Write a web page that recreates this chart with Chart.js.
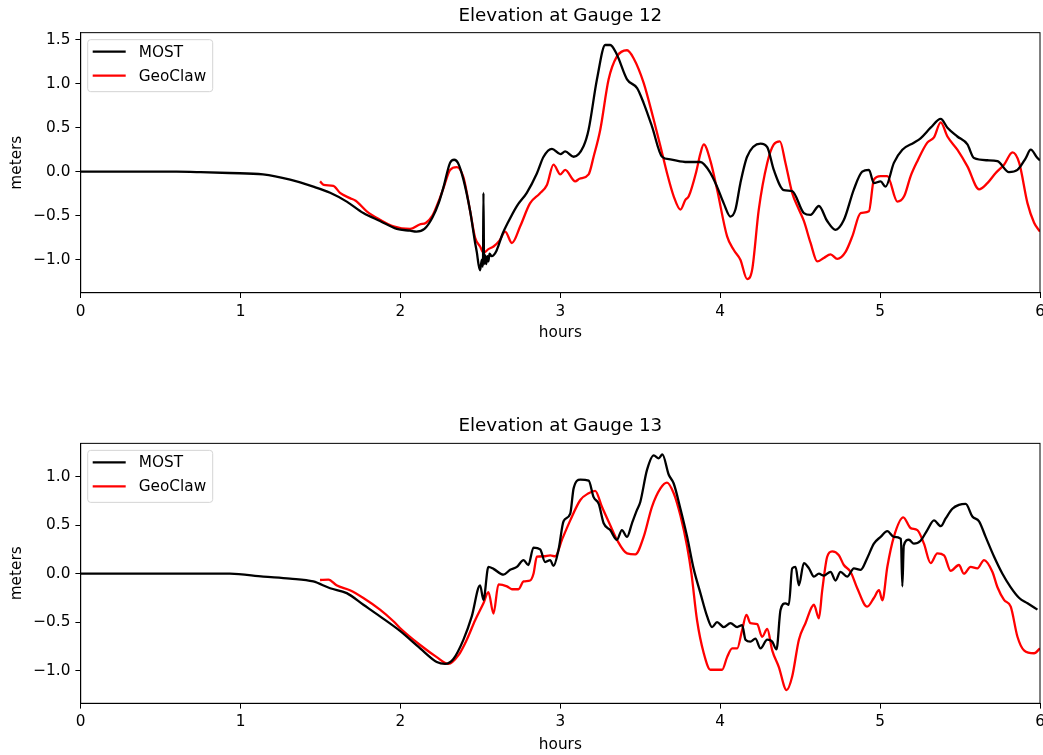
<!DOCTYPE html>
<html>
<head>
<meta charset="utf-8">
<script src="https://cdn.jsdelivr.net/npm/chart.js@4.4.1/dist/chart.umd.min.js"></script>
<style>
  html, body { margin: 0; padding: 0; background: #fff; }
  canvas { position: absolute; left: 0; }
  #g12 { top: 0; }
  #g13 { top: 378px; }
</style>
</head>
<body>
<canvas id="g12" width="1043" height="378"></canvas>
<canvas id="g13" width="1043" height="377"></canvas>
<script>
// [hours, meters]
const g12Most = [[0,0],[0.6,0],[0.75,-0.005],[0.93,-0.015],[1.14,-0.03],[1.31,-0.09],[1.455,-0.17],[1.56,-0.24],[1.664,-0.34],[1.768,-0.47],[1.872,-0.56],[1.977,-0.65],[2.06,-0.67],[2.1,-0.68],[2.15,-0.65],[2.2,-0.52],[2.24,-0.35],[2.27,-0.17],[2.31,0.1],[2.336,0.136],[2.36,0.1],[2.394,-0.09],[2.436,-0.45],[2.467,-0.81],[2.478,-0.92],[2.488,-1.05],[2.498,-1.12],[2.509,-1.0],[2.516,-1.08],[2.519,-0.24],[2.523,-1.05],[2.53,-0.95],[2.536,-1.05],[2.544,-0.96],[2.55,-1.02],[2.557,-0.93],[2.57,-0.96],[2.582,-0.95],[2.6,-0.9],[2.613,-0.84],[2.64,-0.7],[2.666,-0.6],[2.728,-0.39],[2.79,-0.24],[2.853,-0.02],[2.895,0.17],[2.947,0.26],[3.0,0.2],[3.03,0.23],[3.083,0.17],[3.145,0.29],[3.177,0.48],[3.229,1.05],[3.281,1.44],[3.312,1.44],[3.354,1.33],[3.417,1.05],[3.48,0.95],[3.521,0.78],[3.573,0.515],[3.636,0.17],[3.688,0.14],[3.793,0.11],[3.876,0.11],[3.939,-0.015],[3.98,-0.17],[4.022,-0.36],[4.064,-0.51],[4.095,-0.43],[4.126,-0.13],[4.168,0.17],[4.252,0.32],[4.294,0.28],[4.335,0.02],[4.398,-0.21],[4.45,-0.22],[4.523,-0.47],[4.565,-0.49],[4.617,-0.39],[4.669,-0.56],[4.721,-0.66],[4.773,-0.55],[4.836,-0.2],[4.888,0.0],[4.93,0.02],[4.961,-0.13],[5.003,-0.11],[5.034,-0.17],[5.086,0.1],[5.139,0.25],[5.211,0.33],[5.253,0.38],[5.316,0.5],[5.379,0.6],[5.421,0.5],[5.483,0.4],[5.546,0.31],[5.587,0.155],[5.671,0.13],[5.734,0.12],[5.806,-0.005],[5.859,0.02],[5.911,0.155],[5.942,0.25],[5.984,0.155],[6.0,0.13]];

const g12Geo = [[1.497,-0.11],[1.52,-0.15],[1.58,-0.16],[1.622,-0.24],[1.684,-0.3],[1.72,-0.33],[1.789,-0.45],[1.872,-0.545],[1.956,-0.62],[2.06,-0.65],[2.12,-0.6],[2.16,-0.58],[2.2,-0.5],[2.24,-0.33],[2.27,-0.18],[2.31,0.02],[2.353,0.053],[2.394,-0.065],[2.436,-0.45],[2.467,-0.75],[2.498,-0.85],[2.52,-0.92],[2.55,-0.88],[2.582,-0.85],[2.62,-0.78],[2.655,-0.68],[2.697,-0.81],[2.749,-0.62],[2.81,-0.36],[2.87,-0.25],[2.916,-0.15],[2.957,0.08],[3.0,-0.03],[3.03,0.02],[3.093,-0.11],[3.12,-0.08],[3.177,-0.03],[3.208,0.17],[3.25,0.48],[3.302,1.05],[3.354,1.31],[3.417,1.38],[3.458,1.29],[3.521,1.01],[3.584,0.59],[3.626,0.29],[3.667,-0.015],[3.709,-0.28],[3.751,-0.43],[3.782,-0.32],[3.803,-0.28],[3.85,0.0],[3.875,0.2],[3.897,0.31],[3.939,0.12],[3.98,-0.2],[4.043,-0.735],[4.085,-0.89],[4.126,-1.0],[4.168,-1.22],[4.2,-1.11],[4.241,-0.43],[4.294,0.1],[4.335,0.31],[4.373,0.345],[4.408,0.1],[4.45,-0.24],[4.492,-0.43],[4.523,-0.56],[4.565,-0.81],[4.607,-1.02],[4.648,-0.98],[4.69,-0.94],[4.732,-0.99],[4.784,-0.91],[4.826,-0.735],[4.878,-0.47],[4.93,-0.45],[4.961,-0.09],[5.003,-0.05],[5.045,-0.05],[5.108,-0.34],[5.15,-0.28],[5.191,-0.05],[5.233,0.12],[5.295,0.33],[5.337,0.39],[5.379,0.56],[5.421,0.4],[5.483,0.25],[5.546,0.06],[5.619,-0.2],[5.671,-0.13],[5.723,-0.015],[5.775,0.08],[5.828,0.22],[5.87,0.1],[5.922,-0.36],[5.963,-0.58],[6.0,-0.68]];

const g13Most = [[0,0],[0.9,0],[0.933,0.0],[1.142,-0.03],[1.309,-0.05],[1.455,-0.08],[1.56,-0.15],[1.664,-0.2],[1.768,-0.32],[1.872,-0.44],[1.997,-0.59],[2.123,-0.77],[2.227,-0.91],[2.279,-0.93],[2.331,-0.88],[2.394,-0.68],[2.446,-0.44],[2.498,-0.12],[2.519,-0.27],[2.55,0.07],[2.582,0.05],[2.644,-0.01],[2.686,0.04],[2.728,0.07],[2.77,0.14],[2.8,0.09],[2.832,0.27],[2.874,0.25],[2.905,0.12],[2.937,0.14],[2.957,0.08],[2.989,0.25],[3.02,0.54],[3.062,0.62],[3.083,0.88],[3.125,0.97],[3.177,0.96],[3.208,0.79],[3.24,0.72],[3.271,0.52],[3.312,0.45],[3.354,0.35],[3.385,0.45],[3.417,0.38],[3.448,0.52],[3.48,0.66],[3.5,0.74],[3.542,1.07],[3.584,1.22],[3.615,1.19],[3.638,1.23],[3.678,1.02],[3.709,0.93],[3.751,0.67],[3.793,0.38],[3.834,0.05],[3.876,-0.2],[3.918,-0.44],[3.949,-0.55],[3.98,-0.5],[4.022,-0.55],[4.064,-0.51],[4.106,-0.55],[4.137,-0.53],[4.158,-0.68],[4.189,-0.7],[4.22,-0.67],[4.252,-0.77],[4.294,-0.68],[4.325,-0.7],[4.352,-0.78],[4.377,-0.375],[4.408,-0.305],[4.429,-0.32],[4.45,0.055],[4.471,0.07],[4.492,-0.12],[4.523,0.11],[4.555,0.055],[4.586,-0.03],[4.617,0.0],[4.648,-0.02],[4.69,0.02],[4.721,-0.07],[4.752,0.02],[4.794,-0.03],[4.836,0.055],[4.878,0.04],[4.919,0.16],[4.961,0.31],[5.003,0.38],[5.045,0.44],[5.086,0.38],[5.13,0.36],[5.139,-0.13],[5.148,0.29],[5.18,0.35],[5.211,0.31],[5.253,0.34],[5.295,0.45],[5.337,0.55],[5.379,0.49],[5.41,0.57],[5.452,0.67],[5.493,0.71],[5.535,0.72],[5.577,0.59],[5.619,0.54],[5.66,0.38],[5.713,0.175],[5.765,0.0],[5.817,-0.14],[5.87,-0.25],[5.922,-0.305],[5.984,-0.37]];

const g13Geo = [[1.497,-0.065],[1.55,-0.06],[1.6,-0.12],[1.684,-0.17],[1.768,-0.25],[1.872,-0.37],[1.956,-0.49],[1.997,-0.56],[2.123,-0.735],[2.227,-0.86],[2.3,-0.93],[2.363,-0.84],[2.415,-0.68],[2.467,-0.48],[2.519,-0.305],[2.55,-0.19],[2.582,-0.41],[2.613,-0.11],[2.666,-0.13],[2.697,-0.16],[2.738,-0.16],[2.77,-0.08],[2.811,-0.07],[2.832,0.0],[2.853,0.175],[2.895,0.18],[2.937,0.19],[2.968,0.18],[3.01,0.35],[3.062,0.55],[3.125,0.76],[3.177,0.83],[3.218,0.855],[3.26,0.69],[3.312,0.5],[3.354,0.35],[3.417,0.21],[3.469,0.2],[3.521,0.38],[3.573,0.69],[3.626,0.88],[3.667,0.94],[3.709,0.83],[3.751,0.6],[3.793,0.28],[3.82,0.0],[3.855,-0.48],[3.897,-0.82],[3.939,-0.99],[3.98,-0.99],[4.012,-0.99],[4.043,-0.86],[4.075,-0.77],[4.106,-0.77],[4.137,-0.58],[4.164,-0.425],[4.189,-0.51],[4.231,-0.52],[4.262,-0.65],[4.294,-0.57],[4.325,-0.79],[4.366,-0.96],[4.415,-1.2],[4.45,-1.06],[4.492,-0.68],[4.533,-0.51],[4.586,-0.32],[4.617,-0.46],[4.638,-0.17],[4.669,0.175],[4.7,0.23],[4.742,0.19],[4.773,0.09],[4.815,0.02],[4.857,-0.15],[4.919,-0.34],[4.961,-0.25],[4.993,-0.17],[5.014,-0.275],[5.045,0.07],[5.086,0.38],[5.145,0.58],[5.191,0.47],[5.233,0.45],[5.274,0.31],[5.316,0.11],[5.358,0.21],[5.4,0.19],[5.441,0.03],[5.493,0.09],[5.524,0.0],[5.566,0.07],[5.608,0.055],[5.65,0.14],[5.702,0.02],[5.734,-0.14],[5.775,-0.27],[5.817,-0.34],[5.859,-0.65],[5.9,-0.79],[5.963,-0.82],[6.0,-0.77]];

const seriesNames = ['MOST', 'GeoClaw'];
const seriesColors = ['#000000', '#ff0000'];
const hourTicks = [0, 1, 2, 3, 4, 5, 6];

Chart.defaults.font.family = '"DejaVu Sans", sans-serif';
Chart.defaults.color = '#000';

// full box round the axes, like matplotlib spines
const frame = {
  id: 'frame',
  afterDatasetsDraw(chart) {
    const {ctx, chartArea: a} = chart;
    ctx.save();
    ctx.strokeStyle = '#000';
    ctx.lineWidth = 1;
    ctx.strokeRect(a.left, a.top, a.right - a.left, a.bottom - a.top);
    ctx.restore();
  }
};

// legend box inside the axes, upper left
const boxLegend = {
  id: 'boxLegend',
  afterDraw(chart) {
    const {ctx, chartArea: a} = chart;
    const x = a.left + 7, y = a.top + 7, w = 125, h = 52;
    ctx.save();
    ctx.beginPath();
    ctx.roundRect(x, y, w, h, 3);
    ctx.fillStyle = 'rgba(255,255,255,0.8)';
    ctx.fill();
    ctx.strokeStyle = '#d4d4d4';
    ctx.lineWidth = 1;
    ctx.stroke();
    ctx.font = '15.3px "DejaVu Sans"';
    ctx.textBaseline = 'middle';
    chart.data.datasets.forEach((ds, i) => {
      const ly = y + 12 + i * 24;
      ctx.beginPath();
      ctx.moveTo(x + 5, ly);
      ctx.lineTo(x + 38, ly);
      ctx.strokeStyle = ds.borderColor;
      ctx.lineWidth = 2.3;
      ctx.stroke();
      ctx.fillStyle = '#000';
      ctx.fillText(ds.label, x + 51, ly + 1);
    });
    ctx.restore();
  }
};

function makeChart(id, title, most, geo, yMin, yMax, padTop, xAxisH, hoursPad) {
  const sets = [most, geo].map((s, i) => ({
    label: seriesNames[i],
    data: s.map(p => ({x: p[0], y: p[1]})),
    borderColor: seriesColors[i],
    borderWidth: 2.3,
    pointRadius: 0,
    cubicInterpolationMode: 'monotone',
    fill: false
  }));
  return new Chart(document.getElementById(id), {
    type: 'line',
    data: {datasets: sets},
    plugins: [frame, boxLegend],
    options: {
      responsive: false,
      animation: false,
      layout: {padding: {top: padTop, right: 3, bottom: 0, left: 0}},
      plugins: {
        legend: {display: false},
        tooltip: {enabled: false},
        title: {
          display: true,
          fullSize: false,
          text: title,
          color: '#000',
          font: {size: 18.3, weight: 'normal'},
          padding: {top: 5.0, bottom: 5.7}
        }
      },
      scales: {
        x: {
          type: 'linear',
          min: 0,
          max: 6,
          afterBuildTicks: s => { s.ticks = hourTicks.map(v => ({value: v})); },
          afterFit: s => { s.height = xAxisH; s.paddingLeft = 0; s.paddingRight = 0; },
          grid: {display: true, drawOnChartArea: false, drawTicks: true, tickLength: 5.3, color: '#000'},
          border: {display: true, color: '#000', width: 1},
          ticks: {font: {size: 15.3}, color: '#000', padding: 4.5, maxRotation: 0},
          title: {display: true, text: 'hours', font: {size: 15.3}, color: '#000', padding: {top: 0, bottom: hoursPad}}
        },
        y: {
          min: yMin,
          max: yMax,
          afterFit: s => { s.width = 80.7; s.paddingTop = 0; s.paddingBottom = 0; },
          grid: {display: true, drawOnChartArea: false, drawTicks: true, tickLength: 5.3, color: '#000'},
          border: {display: true, color: '#000', width: 1},
          ticks: {
            stepSize: 0.5,
            includeBounds: false,
            font: {size: 15.3},
            color: '#000',
            padding: 5,
            callback: v => (v < 0 ? '\u2212' : '') + Math.abs(v).toFixed(1)
          },
          title: {display: true, text: 'meters', font: {size: 15.3}, color: '#000', padding: {top: 8.3, bottom: 0}}
        }
      }
    }
  });
}

makeChart('g12', 'Elevation at Gauge 12', g12Most, g12Geo, -1.375, 1.58, 0, 85.3, 35.8);
makeChart('g13', 'Elevation at Gauge 13', g13Most, g13Geo, -1.336, 1.344, 32.7, 51.7, 0.8);
</script>
</body>
</html>
